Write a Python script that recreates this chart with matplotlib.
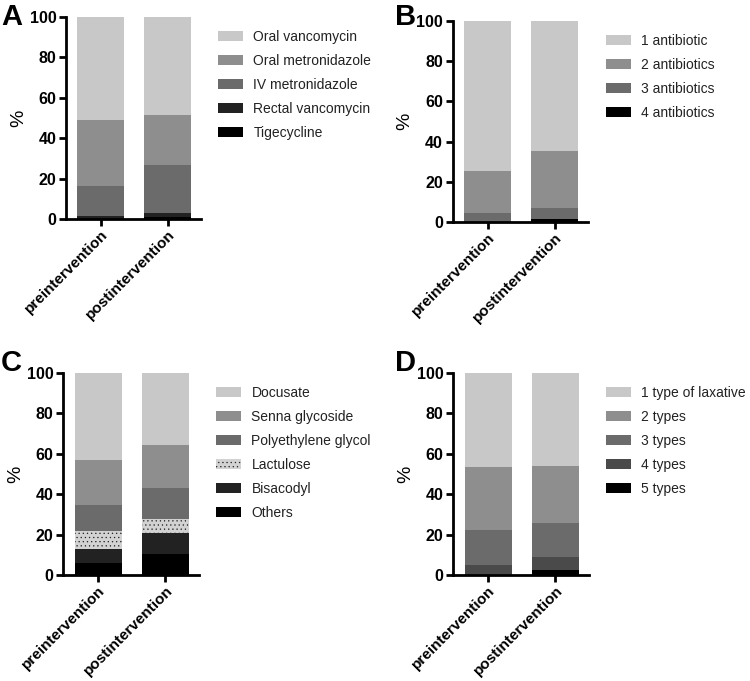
import matplotlib
matplotlib.use('Agg')
import matplotlib.pyplot as plt
from matplotlib.patches import Patch

plt.rcParams['font.family'] = ['Liberation Sans', 'DejaVu Sans']
plt.rcParams['hatch.linewidth'] = 0.4
plt.rcParams['hatch.color'] = '#222222'

groups = ['preintervention', 'postintervention']

# Panel A (bottom to top)
a_labels = ['Tigecycline', 'Rectal vancomycin', 'IV metronidazole', 'Oral metronidazole', 'Oral vancomycin']
a_tigecycline = [0.0, 0.8]
a_rectal_vanc = [1.6, 2.0]
a_iv_metro = [14.8, 23.7]
a_oral_metro = [32.5, 25.1]
a_oral_vanc = [51.1, 48.4]

# Panel B
b_labels = ['4 antibiotics', '3 antibiotics', '2 antibiotics', '1 antibiotic']
b_four = [0.0, 1.6]
b_three = [4.8, 5.5]
b_two = [20.7, 28.4]
b_one = [74.5, 64.5]

# Panel C
c_labels = ['Others', 'Bisacodyl', 'Lactulose', 'Polyethylene glycol', 'Senna glycoside', 'Docusate']
c_others = [6.1, 10.5]
c_bisacodyl = [6.8, 10.4]
c_lactulose = [9.0, 6.9]
c_peg = [12.9, 15.0]
c_senna = [21.9, 21.6]
c_docusate = [43.3, 35.6]

# Panel D
d_labels = ['5 types', '4 types', '3 types', '2 types', '1 type of laxative']
d_five = [0.0, 2.3]
d_four = [4.9, 6.6]
d_three = [17.2, 16.6]
d_two = [31.1, 28.5]
d_one = [46.8, 46.0]

W, H = 750, 681
fig = plt.figure(figsize=(7.5, 6.81), dpi=100)


def px_axes(left, right, y0, y100):
    return fig.add_axes([left / W, 1 - y0 / H, (right - left) / W, (y0 - y100) / H])


def panel(ax, series, labels, colors, hatches, leg_xy, letter, letter_xy):
    x = range(len(groups))
    bottom = [0.0] * len(groups)
    handles = []
    for vals, lab, col, h in zip(series, labels, colors, hatches):
        ax.bar(x, vals, width=0.7, bottom=bottom, color=col, hatch=h,
               edgecolor='#222222' if h else col, linewidth=0)
        bottom = [b + v for b, v in zip(bottom, vals)]
        handles.append(Patch(facecolor=col, hatch=h, edgecolor='#222222' if h else col,
                             linewidth=0, label=lab))
    ax.set_xlim(-0.52, 1.5)
    ax.set_ylim(0, 100)
    ax.set_yticks([0, 20, 40, 60, 80, 100])
    ax.set_xticks(list(x))
    ax.set_xticklabels(groups, rotation=45, ha='right', rotation_mode='anchor',
                       fontsize=11, fontweight='bold')
    for t in ax.get_yticklabels():
        t.set_fontweight('bold')
        t.set_fontsize(11.5)
    ax.tick_params(axis='y', direction='out', length=5, width=2, pad=2)
    ax.tick_params(axis='x', direction='out', length=5, width=2, pad=1)
    for s in ['top', 'right']:
        ax.spines[s].set_visible(False)
    for s in ['left', 'bottom']:
        ax.spines[s].set_linewidth(2)
    ax.set_ylabel('%', fontsize=14, labelpad=2)
    ax.legend(handles[::-1], labels[::-1], loc='upper left',
              bbox_to_anchor=(leg_xy[0] / W, 1 - leg_xy[1] / H), bbox_transform=fig.transFigure,
              frameon=False, fontsize=10, handlelength=1.8, handleheight=0.65,
              handletextpad=0.75, labelspacing=0.72, borderpad=0, borderaxespad=0,
              labelcolor='#222222')
    fig.text(letter_xy[0] / W, 1 - letter_xy[1] / H, letter, fontsize=21, fontweight='bold',
             ha='left', va='top')


axA = px_axes(66, 201, 219, 16.7)
panel(axA, [a_tigecycline, a_rectal_vanc, a_iv_metro, a_oral_metro, a_oral_vanc], a_labels,
      ['#000000', '#222222', '#6b6b6b', '#8e8e8e', '#c8c8c8'], [None] * 5,
      (218, 30), 'A', (1, 3))

axB = px_axes(452.7, 588, 222.3, 20.7)
panel(axB, [b_four, b_three, b_two, b_one], b_labels,
      ['#000000', '#6b6b6b', '#8e8e8e', '#c8c8c8'], [None] * 4,
      (606, 34), 'B', (395, 3))

axC = px_axes(63.3, 199, 575, 372.7)
panel(axC, [c_others, c_bisacodyl, c_lactulose, c_peg, c_senna, c_docusate], c_labels,
      ['#000000', '#222222', '#d2d2d2', '#6b6b6b', '#8e8e8e', '#c8c8c8'],
      [None, None, '....', None, None, None],
      (216, 386), 'C', (1, 349))

axD = px_axes(453.3, 589, 575, 372.7)
panel(axD, [d_five, d_four, d_three, d_two, d_one], d_labels,
      ['#000000', '#4a4a4a', '#6b6b6b', '#8e8e8e', '#c8c8c8'], [None] * 5,
      (606, 386), 'D', (395, 349))

fig.savefig('out.png', dpi=100)
